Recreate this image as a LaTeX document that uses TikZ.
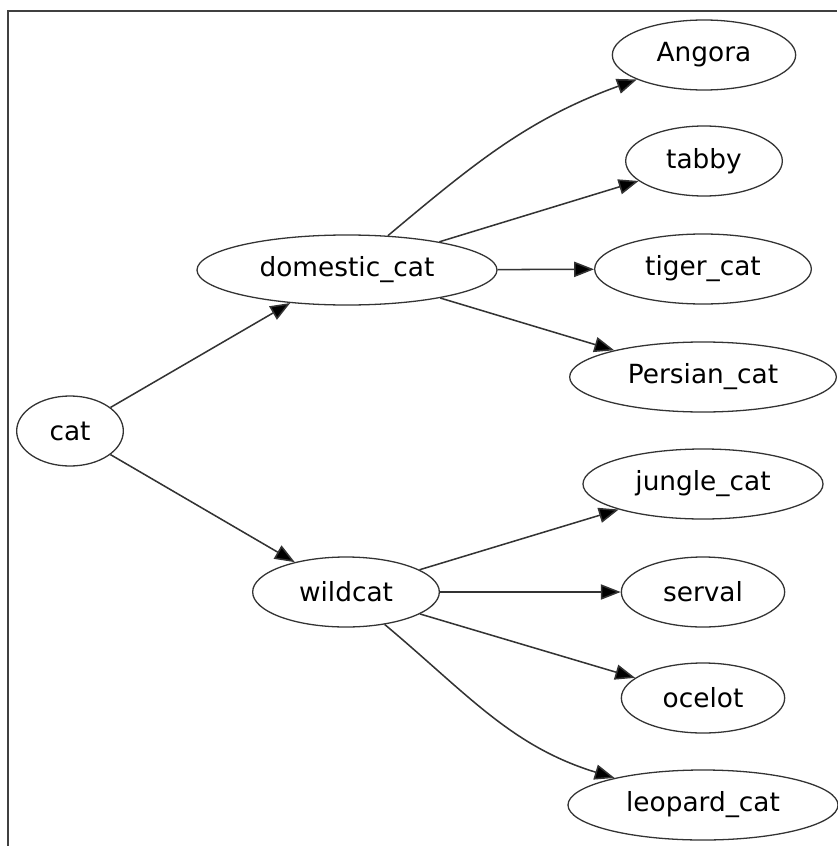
\documentclass[tikz,border=0pt]{standalone}
\usepackage{fontspec}
\setmainfont{DejaVu Sans}
\usepackage{tikz}
\usetikzlibrary{arrows,arrows.meta,shapes.geometric}

\begin{document}
\begin{tikzpicture}[x=0.03cm, y=0.03cm,
    every node/.style={ellipse, draw=black!80, line width=1.1pt, inner sep=0pt,
        minimum height=2.1cm, font=\fontsize{22.5}{27}\selectfont},
    isa/.style={-{Triangle[length=17pt, width=13pt, fill=black]}, draw=black!80, line width=1.3pt}]
    \useasboundingbox (0,0) rectangle (837,-846);
    \draw[line width=1.6pt, color=black!75] (8,-846) -- (8,-11) -- (837,-11);
    % root and the two kinds
    \node[minimum width=3.2cm] (cat) at (70,-431) {cat};
    \node[minimum width=9cm] (domestic) at (347,-270) {domestic\_cat};
    \node[minimum width=5.6cm] (wild) at (346,-592) {wildcat};
    % breeds
    \node[minimum width=5.5cm] (angora) at (704,-55) {Angora};
    \node[minimum width=4.7cm] (tabby) at (704,-161) {tabby};
    \node[minimum width=6.5cm] (tiger) at (703,-269) {tiger\_cat};
    \node[minimum width=8cm] (persian) at (703,-377) {Persian\_cat};
    \node[minimum width=7.2cm] (jungle) at (703,-484) {jungle\_cat};
    \node[minimum width=4.9cm] (serval) at (703,-592) {serval};
    \node[minimum width=4.9cm] (ocelot) at (703,-698) {ocelot};
    \node[minimum width=8.1cm] (leopard) at (703,-805) {leopard\_cat};
    \draw[isa] (cat) -- (domestic);
    \draw[isa] (cat) -- (wild);
    \draw[isa] (domestic) to[out=40, in=200] (angora);
    \draw[isa] (domestic) -- (tabby);
    \draw[isa] (domestic) -- (tiger);
    \draw[isa] (domestic) -- (persian);
    \draw[isa] (wild) -- (jungle);
    \draw[isa] (wild) -- (serval);
    \draw[isa] (wild) -- (ocelot);
    \draw[isa] (wild) to[out=-40, in=163] (leopard);
\end{tikzpicture}
\end{document}
